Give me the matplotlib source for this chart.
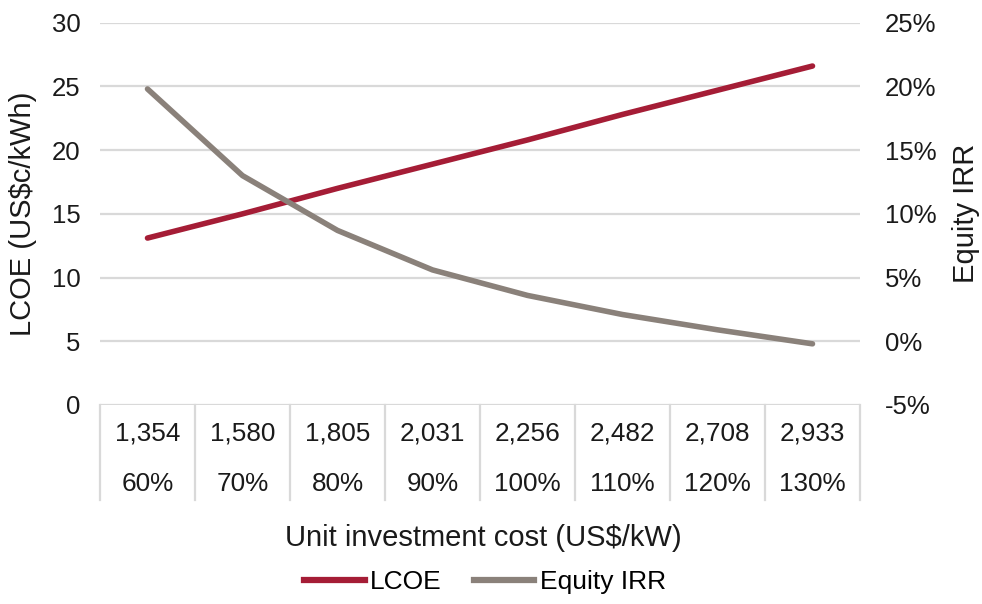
import matplotlib
matplotlib.use("Agg")
import matplotlib.pyplot as plt
import matplotlib.transforms as mtransforms
from matplotlib.lines import Line2D

plt.rcParams['font.family'] = ['Liberation Sans', 'DejaVu Sans']

cost_labels = ["1,354", "1,580", "1,805", "2,031", "2,256", "2,482", "2,708", "2,933"]
pct_labels = ["60%", "70%", "80%", "90%", "100%", "110%", "120%", "130%"]
lcoe = [13.1, 15.0, 17.0, 18.9, 20.8, 22.8, 24.7, 26.6]
equity_irr = [19.8, 13.0, 8.7, 5.6, 3.6, 2.1, 0.9, -0.2]

RED = "#A51D36"
GRAY = "#8A817A"
GRID = "#D9D9D9"
TXT = "#1a1a1a"

fig = plt.figure(figsize=(9.82, 6.04), dpi=100)
W, H = 982, 604
left, right, top, bottom = 100, 860, 22.7, 405
ax = fig.add_axes([left / W, 1 - bottom / H, (right - left) / W, (bottom - top) / H])
ax2 = ax.twinx()

x = list(range(len(cost_labels)))
ax.set_xlim(-0.5, len(x) - 0.5)
ax.set_ylim(0, 30)
ax.set_yticks(range(0, 31, 5))
ax.yaxis.grid(True, color=GRID, linewidth=1.6)
ax.set_axisbelow(True)
for s in ax.spines.values():
    s.set_visible(False)
for s in ax2.spines.values():
    s.set_visible(False)
ax.set_xticks([])
ax.tick_params(axis='y', length=0, labelsize=18.5, pad=14, colors=TXT)

ax2.set_ylim(-5, 25)
ax2.set_yticks(range(-5, 26, 5))
ax2.set_yticklabels([f"{v}%" for v in range(-5, 26, 5)])
ax2.tick_params(axis='y', length=0, labelsize=18.5, pad=18, colors=TXT)

ax.plot(x, lcoe, color=RED, linewidth=4.0, solid_capstyle='round', zorder=3)
ax2.plot(x, equity_irr, color=GRAY, linewidth=4.0, solid_capstyle='round', zorder=3)

ax.set_ylabel("LCOE (US$c/kWh)", fontsize=21, labelpad=11, color=TXT)
ax2.set_ylabel("Equity IRR", fontsize=21, labelpad=11, color=TXT)

# category box
trans = mtransforms.blended_transform_factory(ax.transData, ax.transAxes)
box_bottom = (bottom - 500) / (bottom - top)
for xi in [i - 0.5 for i in range(len(x) + 1)]:
    ax.add_line(Line2D([xi, xi], [0, box_bottom], transform=trans, color=GRID,
                       linewidth=1.6, clip_on=False))
y_num = (bottom - 434) / (bottom - top)
y_pct = (bottom - 484) / (bottom - top)
for xi, c, p in zip(x, cost_labels, pct_labels):
    ax.text(xi, y_num, c, transform=trans, ha='center', va='center', fontsize=18.8, color=TXT)
    ax.text(xi, y_pct, p, transform=trans, ha='center', va='center', fontsize=18.8, color=TXT)

fig.text(483 / W, 1 - 538 / H, "Unit investment cost (US$/kW)", ha='center', va='center',
         fontsize=21, color=TXT)

handles = [Line2D([], [], color=RED, linewidth=4.5), Line2D([], [], color=GRAY, linewidth=4.5)]
fig.legend(handles, ["LCOE", "Equity IRR"], loc='center', bbox_to_anchor=(485 / W, 1 - 582 / H),
           ncol=2, frameon=False, fontsize=19, handlelength=2.3, handletextpad=0.2,
           columnspacing=1.2)

fig.savefig("out.png", dpi=100)
